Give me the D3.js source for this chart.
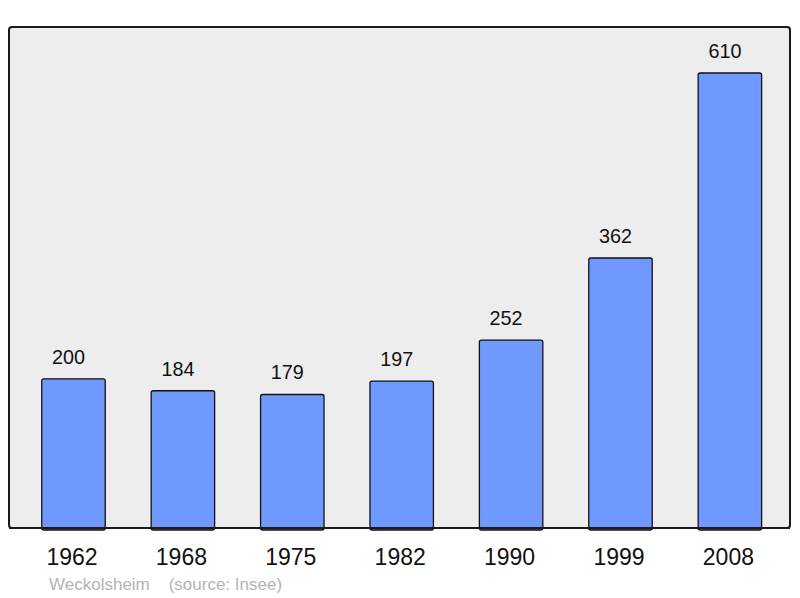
<!DOCTYPE html>
<html>
<head>
<meta charset="utf-8">
<script src="https://cdn.jsdelivr.net/npm/d3@7"></script>
<style>
  body { margin: 0; background: #fff; }
  text { font-family: "Liberation Sans", Arial, sans-serif; }
</style>
</head>
<body>
<svg id="chart" width="800" height="598"></svg>
<script>
    // population figures
    var years = ['1962', '1968', '1975', '1982', '1990', '1999', '2008'];
    var population = [200, 184, 179, 197, 252, 362, 610];
    var place = 'Weckolsheim';
    var source = '(source: Insee)';

    var svg = d3.select('#chart');

    var panel = { left: 9, top: 27, right: 790, bottom: 528 };

    svg.append('rect')
        .attr('x', panel.left)
        .attr('y', panel.top)
        .attr('width', panel.right - panel.left)
        .attr('height', panel.bottom - panel.top)
        .attr('rx', 3)
        .attr('fill', '#ededed')
        .attr('stroke', '#1a1a1a')
        .attr('stroke-width', 2);

    var x = d3.scaleBand()
        .domain(years)
        .range([18.8, 784.6])
        .paddingInner(0.42)
        .paddingOuter(0.21);

    var y = d3.scaleLinear()
        .domain([0, 610])
        .range([panel.bottom, 73]);

    var data = years.map(function(yr, i) {
        return { year: yr, value: population[i] };
    });

    svg.selectAll('.bar')
        .data(data)
        .enter().append('rect')
        .attr('class', 'bar')
        .attr('x', function(d) { return x(d.year); })
        .attr('y', function(d) { return y(d.value); })
        .attr('width', x.bandwidth())
        .attr('height', function(d) { return panel.bottom - y(d.value) + 2; })
        .attr('rx', 2)
        .attr('fill', '#7099ff')
        .attr('stroke', '#111')
        .attr('stroke-width', 1.3);

    // redraw the bottom edge of the panel over the bar feet
    svg.append('line')
        .attr('x1', panel.left)
        .attr('x2', panel.right)
        .attr('y1', panel.bottom)
        .attr('y2', panel.bottom)
        .attr('stroke', '#1a1a1a')
        .attr('stroke-width', 2);

    // value labels (sit a little left of the bar centre in the original)
    svg.selectAll('.bar-values-label')
        .data(data)
        .enter().append('text')
        .attr('class', 'bar-values-label')
        .attr('x', function(d) { return x(d.year) + x.bandwidth() / 2 - 5; })
        .attr('y', function(d) { return y(d.value) - 15; })
        .attr('text-anchor', 'middle')
        .attr('font-size', 19.8)
        .attr('fill', '#111')
        .text(function(d) { return d.value; });

    // year labels
    svg.selectAll('.year-label')
        .data(years)
        .enter().append('text')
        .attr('class', 'year-label')
        .attr('x', function(d) { return x(d) + x.bandwidth() / 2 - 1.5; })
        .attr('y', 565)
        .attr('text-anchor', 'middle')
        .attr('font-size', 23)
        .attr('fill', '#111')
        .text(function(d) { return d; });

    svg.append('text')
        .attr('x', 49)
        .attr('y', 590)
        .attr('font-size', 17)
        .attr('fill', '#b3b3b3')
        .attr('xml:space', 'preserve')
        .style('white-space', 'pre')
        .text(place + '    ' + source);
</script>
</body>
</html>
